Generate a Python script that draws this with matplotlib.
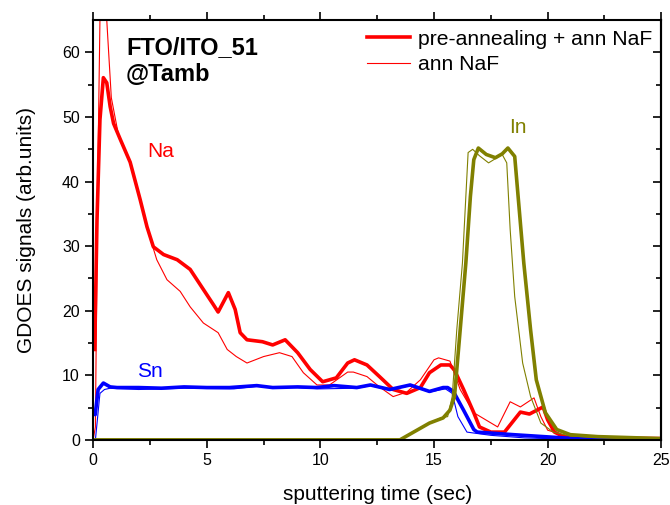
import numpy as np
import matplotlib.pyplot as plt

plt.rcParams['font.family'] = ['Liberation Sans', 'DejaVu Sans']

# Na, pre-annealing + ann NaF (thick)
na_pre_t = [0.07, 0.17, 0.3, 0.45, 0.6, 0.75, 0.9, 1.2, 1.63, 2.07, 2.37, 2.65, 3.1, 3.7, 4.27,
            4.85, 5.3, 5.5, 5.95, 6.25, 6.47, 6.77, 7.45, 7.9, 8.45, 9.0, 9.55, 10.1, 10.7,
            11.2, 11.5, 12.05, 12.6, 13.2, 13.8, 14.4, 14.8, 15.3, 15.7, 15.9, 16.3, 16.75,
            17.0, 17.5, 18.1, 18.8, 19.2, 19.8, 20.0, 20.3, 20.7, 22.0, 25.0]
na_pre = [14, 34, 49.6, 56.1, 55.3, 51.6, 49, 46.5, 43, 37.2, 33, 29.9, 28.7, 27.9, 26.4,
          23.3, 20.9, 19.8, 22.8, 20.2, 16.6, 15.5, 15.2, 14.7, 15.5, 13.5, 10.9, 9.0, 9.6,
          11.9, 12.4, 11.6, 9.8, 7.8, 7.2, 8.1, 10.4, 11.6, 11.6, 10.8, 7.8, 4.2,
          2.0, 1.2, 1.2, 4.3, 4.0, 5.1, 3.1, 1.2, 0.5, 0.3, 0.2]

# Na, ann NaF (thin)
na_ann_t = [0.0, 0.1, 0.2, 0.3, 0.45, 0.6, 0.8, 1.1, 1.63, 2.07, 2.4, 2.8, 3.25, 3.83, 4.27,
            4.85, 5.5, 5.9, 6.3, 6.77, 7.5, 8.2, 8.75, 9.25, 9.85, 10.4, 11.2, 11.45, 12.05,
            12.6, 13.2, 13.8, 14.4, 15.0, 15.2, 15.7, 16.15, 16.75, 17.8, 18.35, 18.8, 19.4,
            19.7, 20.0, 21.0, 25.0]
na_ann = [0.0, 2, 40, 65, 76, 65, 53, 47.5, 43, 37.2, 32.5, 27.9, 24.8, 23, 20.6,
          18.1, 16.6, 14, 12.9, 11.9, 12.9, 13.5, 12.9, 10.4, 8.5, 8.5, 10.5, 10.5, 9.8,
          8.2, 6.7, 7.4, 9.3, 12.4, 12.7, 12.2, 7.8, 4.2, 2.0, 5.9, 5.1, 6.5,
          3.6, 1.5, 0.4, 0.2]

# Sn, pre-annealing + ann NaF (thick)
sn_pre_t = [0.05, 0.09, 0.22, 0.45, 0.75, 1.05, 2.0, 3.0, 4.0, 5.0, 6.0, 7.2, 7.9, 9.0, 9.85,
            10.6, 11.6, 12.2, 13.05, 13.95, 14.8, 15.4, 15.6, 15.85, 16.3, 16.75, 16.9,
            18.5, 20.7, 22.0, 25.0]
sn_pre = [4.0, 3.9, 7.8, 8.8, 8.2, 8.1, 8.1, 8.0, 8.2, 8.1, 8.1, 8.4, 8.1, 8.2, 8.1,
          8.4, 8.1, 8.5, 7.8, 8.5, 7.5, 8.1, 8.1, 7.5, 4.6, 1.6, 1.2,
          0.8, 0.3, 0.1, 0.05]

# Sn, ann NaF (thin)
sn_ann_t = [0.0, 0.1, 0.3, 0.5, 0.75, 2.0, 4.0, 6.2, 7.2, 9.0, 10.0, 11.6, 12.2, 13.05,
            13.95, 14.8, 15.5, 15.8, 16.05, 16.45, 17.5, 19.0, 21.0, 25.0]
sn_ann = [0.0, 0.0, 7.2, 7.8, 8.0, 7.8, 8.0, 7.9, 8.3, 8.1, 7.9, 8.0, 8.4, 7.7,
          8.4, 7.4, 7.9, 7.2, 3.6, 1.2, 0.7, 0.3, 0.1, 0.05]

# In, pre-annealing + ann NaF (thick)
in_pre_t = [0.0, 13.5, 14.25, 14.8, 15.4, 15.7, 15.9, 16.15, 16.4, 16.6, 16.75, 16.95, 17.3,
            17.7, 18.0, 18.25, 18.55, 18.7, 18.95, 19.25, 19.5, 19.9, 20.4, 21.0, 22.2, 25.0]
in_pre = [0.0, 0.0, 1.5, 2.6, 3.4, 4.6, 6.7, 17, 27.4, 37.7, 43.4, 45.2, 44.2,
          43.7, 44.3, 45.2, 43.9, 37.7, 27.4, 17, 9.3, 4.2, 1.6, 0.8, 0.5, 0.2]

# In, ann NaF (thin)
in_ann_t = [0.0, 13.5, 14.25, 14.8, 15.3, 15.6, 15.8, 16.0, 16.25, 16.4, 16.5, 16.7, 17.0,
            17.4, 18.0, 18.2, 18.35, 18.55, 18.9, 19.25, 19.7, 20.25, 21.0, 22.0, 25.0]
in_ann = [0.0, 0.0, 1.6, 2.6, 3.4, 3.6, 6.7, 17, 27.4, 37.7, 44.5, 45, 44,
          42.9, 44.2, 42.9, 32.6, 22.2, 11.9, 6.7, 2.6, 1.2, 0.6, 0.4, 0.2]

red, blue, olive = '#ff0000', '#0000ff', '#808000'
thick, thin = 2.6, 0.8

fig = plt.figure(figsize=(6.7, 5.05), dpi=100)
ax = fig.add_axes([0.139, 0.129, 0.848, 0.831])

ax.plot(na_pre_t, na_pre, color=red, lw=thick, label='pre-annealing + ann NaF')
ax.plot(na_ann_t, na_ann, color=red, lw=thin, label='ann NaF')
ax.plot(sn_pre_t, sn_pre, color=blue, lw=thick)
ax.plot(sn_ann_t, sn_ann, color=blue, lw=thin)
ax.plot(in_pre_t, in_pre, color=olive, lw=thick)
ax.plot(in_ann_t, in_ann, color=olive, lw=thin)

ax.set_xlim(0, 25)
ax.set_ylim(0, 65)
ax.set_xticks([0, 5, 10, 15, 20, 25])
ax.set_xticks(np.arange(2.5, 25, 5), minor=True)
ax.set_yticks([0, 10, 20, 30, 40, 50, 60])
ax.set_yticks(np.arange(5, 65, 10), minor=True)
ax.tick_params(which='both', direction='out', top=True, right=False, labelsize=11.5, width=1.2)
ax.tick_params(which='major', length=6)
ax.tick_params(which='minor', length=3.5)
for s in ax.spines.values():
    s.set_linewidth(1.5)

# inward ticks on the right spine
rax = ax.secondary_yaxis('right')
rax.set_yticks([0, 10, 20, 30, 40, 50, 60])
rax.set_yticks(np.arange(5, 65, 10), minor=True)
rax.tick_params(which='both', direction='in', labelright=False, width=1.2)
rax.tick_params(which='major', length=6)
rax.tick_params(which='minor', length=3.5)
rax.spines['right'].set_linewidth(1.5)

ax.set_xlabel('sputtering time (sec)', fontsize=15, labelpad=12)
ax.set_ylabel('GDOES signals (arb.units)', fontsize=15, labelpad=19)

ax.text(1.45, 58.7, 'FTO/ITO_51\n@Tamb', fontsize=17, fontweight='bold',
        va='center', linespacing=1.25)
ax.text(2.4, 43.8, 'Na', color=red, fontsize=15)
ax.text(1.95, 9.7, 'Sn', color=blue, fontsize=15)
ax.text(18.3, 47.6, 'In', color=olive, fontsize=15)

ax.legend(loc='upper right', frameon=False, fontsize=15.2, handlelength=2.05,
          borderaxespad=0.1, handletextpad=0.35, labelspacing=0.3, borderpad=0.35)

fig.savefig('out.png', dpi=100)
